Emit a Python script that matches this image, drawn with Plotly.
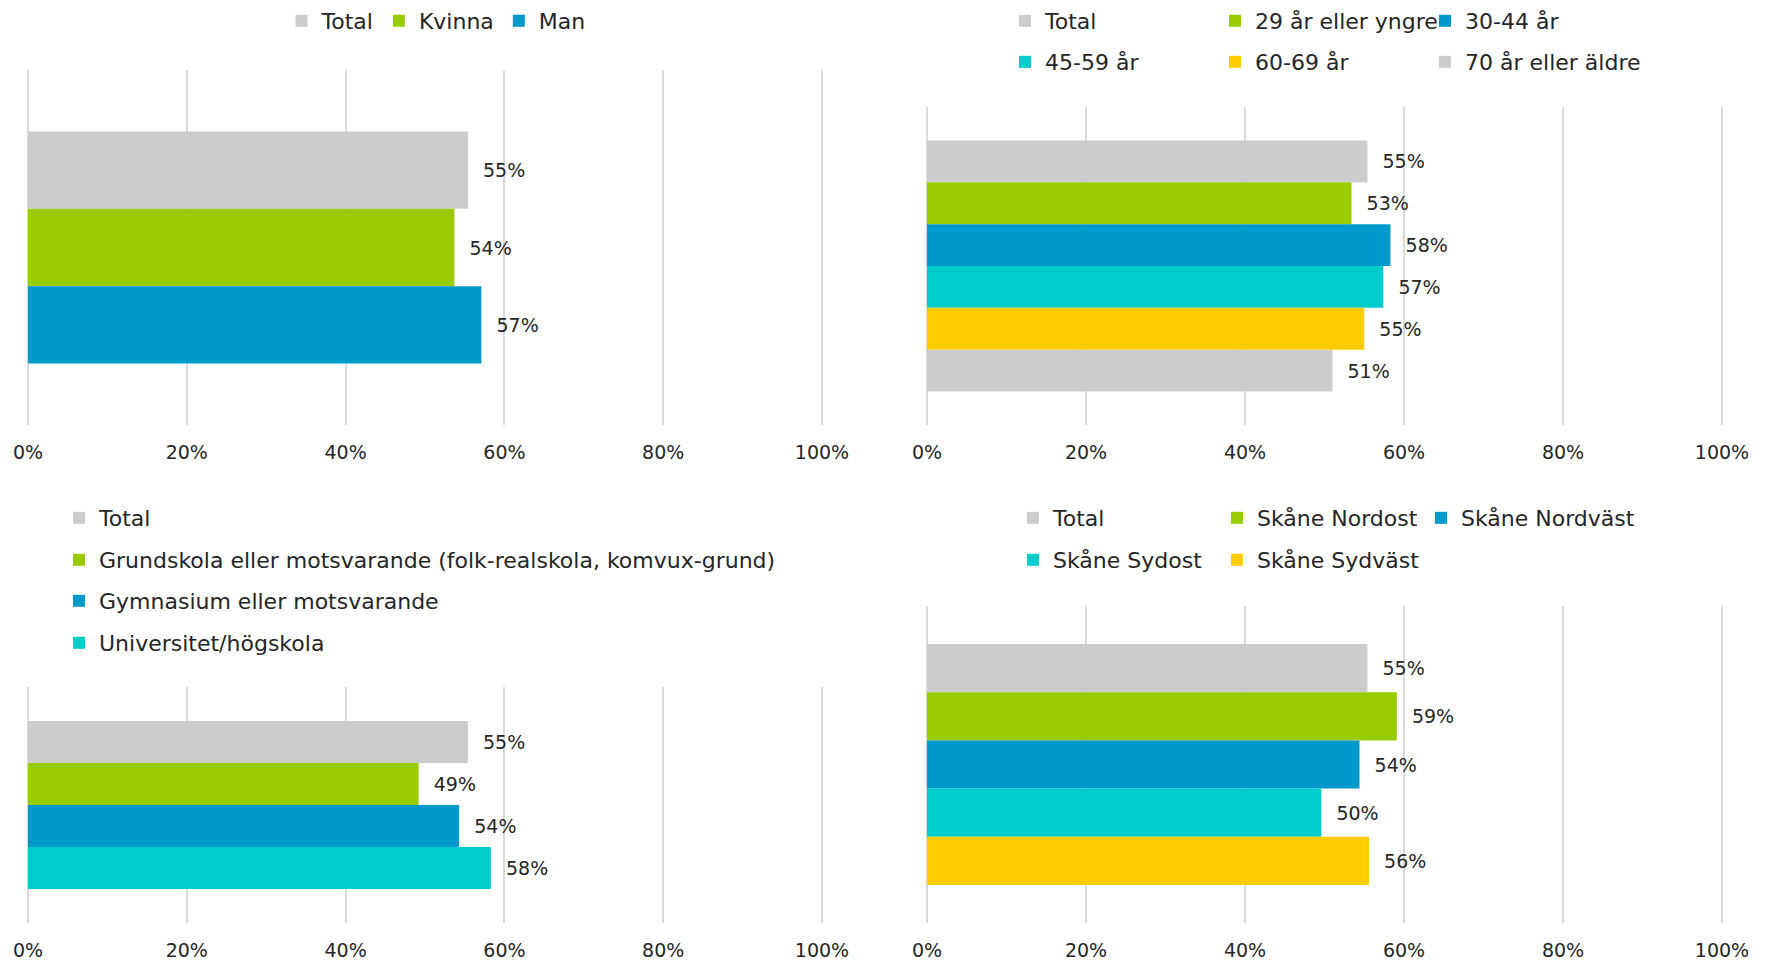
import plotly.graph_objects as go

W, H = 1767, 962
FONT = "DejaVu Sans"
TEXT = "#262626"
GRID = "#D9D9D9"

# ---------------- data ----------------
gender_category = "Kön"
gender_labels = ["Total", "Kvinna", "Man"]
gender_values = [0.554, 0.537, 0.571]
gender_colors = ["#CCCCCC", "#99CC00", "#0099CC"]

age_category = "Ålder"
age_labels = ["Total", "29 år eller yngre", "30-44 år", "45-59 år", "60-69 år", "70 år eller äldre"]
age_values = [0.554, 0.534, 0.583, 0.574, 0.550, 0.510]
age_colors = ["#CCCCCC", "#99CC00", "#0099CC", "#00CCCC", "#FFCC00", "#CCCCCC"]

edu_category = "Utbildning"
edu_labels = ["Total", "Grundskola eller motsvarande (folk-realskola, komvux-grund)",
              "Gymnasium eller motsvarande", "Universitet/högskola"]
edu_values = [0.554, 0.492, 0.543, 0.583]
edu_colors = ["#CCCCCC", "#99CC00", "#0099CC", "#00CCCC"]

region_category = "Region"
region_labels = ["Total", "Skåne Nordost", "Skåne Nordväst", "Skåne Sydost", "Skåne Sydväst"]
region_values = [0.554, 0.591, 0.544, 0.496, 0.556]
region_colors = ["#CCCCCC", "#99CC00", "#0099CC", "#00CCCC", "#FFCC00"]

x_tick_values = [0, 0.2, 0.4, 0.6, 0.8, 1.0]
x_tick_labels = ["0%", "20%", "40%", "60%", "80%", "100%"]

# ---------------- layout helpers ----------------
OFF = 8  # page body margin offset

def px_x(p):
    return (p - OFF) / W

def px_y(p):
    return 1 - (p - OFF) / H

PAD = 0.003  # tiny range padding so the 0% and 100% gridlines are drawn
COLUMN_LEGENDS = ("legend2", "legend3", "legend8", "legend9")

fig = go.Figure()

panels = [
    ("", gender_category, gender_labels, gender_values, gender_colors,
     ["legend", "legend", "legend"], (28, 822), (70, 425), 1.223),
    ("2", age_category, age_labels, age_values, age_colors,
     ["legend2", "legend2", "legend2", "legend3", "legend3", "legend3"], (927, 1722), (107, 425), 1.013),
    ("3", edu_category, edu_labels, edu_values, edu_colors,
     ["legend4", "legend5", "legend6", "legend7"], (28, 822), (687, 923), 1.124),
    ("4", region_category, region_labels, region_values, region_colors,
     ["legend8", "legend8", "legend8", "legend9", "legend9"], (927, 1722), (606, 923), 1.053),
]

for suf, cat, labels, values, colors, legs, xd, yd, span in panels:
    n = len(labels)
    for i, (lab, val, col, leg) in enumerate(zip(labels, values, colors, legs)):
        last_in_row = (i == n - 1) or (legs[i + 1] != leg)
        extra = {}
        if last_in_row and leg in COLUMN_LEGENDS:
            extra["legendwidth"] = 300
        fig.add_trace(go.Bar(
            x=[val], y=[cat], orientation="h", name=lab,
            marker=dict(color=col, line=dict(width=0)),
            texttemplate="\u00a0\u00a0%{x:.0%}", textposition="outside",
            constraintext="none", cliponaxis=False,
            textfont=dict(family=FONT, size=19, color=TEXT),
            xaxis="x" + suf, yaxis="y" + suf, legend=leg,
            hovertemplate=lab + ": %{x:.0%}<extra></extra>",
            **extra,
        ))
    s = xd[1] - xd[0]
    xa = dict(domain=[px_x(xd[0] - PAD * s), px_x(xd[1] + PAD * s)], range=[-PAD, 1 + PAD],
              tickvals=x_tick_values, ticktext=x_tick_labels,
              showgrid=True, gridcolor=GRID, gridwidth=1.5,
              zeroline=False, showline=False, ticks="", ticklabelstandoff=14,
              tickfont=dict(family=FONT, size=19, color=TEXT),
              anchor="y" + suf, fixedrange=True, automargin=False)
    ya = dict(domain=[px_y(yd[1]), px_y(yd[0])], range=[span / 2, -span / 2],
              showticklabels=False, showgrid=False, zeroline=False, showline=False,
              ticks="", anchor="x" + suf, fixedrange=True, automargin=False)
    fig.layout["xaxis" + suf] = xa
    fig.layout["yaxis" + suf] = ya

leg_common = dict(orientation="h", font=dict(family=FONT, size=22, color=TEXT),
                  bgcolor="rgba(0,0,0,0)", borderwidth=0, itemwidth=30,
                  xanchor="left", yanchor="middle", traceorder="normal",
                  itemclick=False, itemdoubleclick=False)

def legend_at(marker_left, y_center, entrywidth=None):
    d = dict(leg_common, x=px_x(marker_left - 20), y=px_y(y_center))
    if entrywidth:
        d.update(entrywidth=entrywidth, entrywidthmode="pixels")
    return d

fig.update_layout(
    template="none",
    width=W, height=H,
    margin=dict(l=0, r=0, t=0, b=0, autoexpand=False),
    paper_bgcolor="white", plot_bgcolor="white",
    barmode="group", bargap=0.2, bargroupgap=0,
    font=dict(family=FONT, color=TEXT),
    showlegend=True,
    legend=dict(leg_common, x=px_x(436), xanchor="center", y=px_y(21)),
    legend2=legend_at(1025, 21, 165),
    legend3=legend_at(1025, 62, 165),
    legend4=legend_at(79, 518),
    legend5=legend_at(79, 560),
    legend6=legend_at(79, 601),
    legend7=legend_at(79, 643),
    legend8=legend_at(1033, 518, 159),
    legend9=legend_at(1033, 560, 159),
)

fig.write_html("out.html")
